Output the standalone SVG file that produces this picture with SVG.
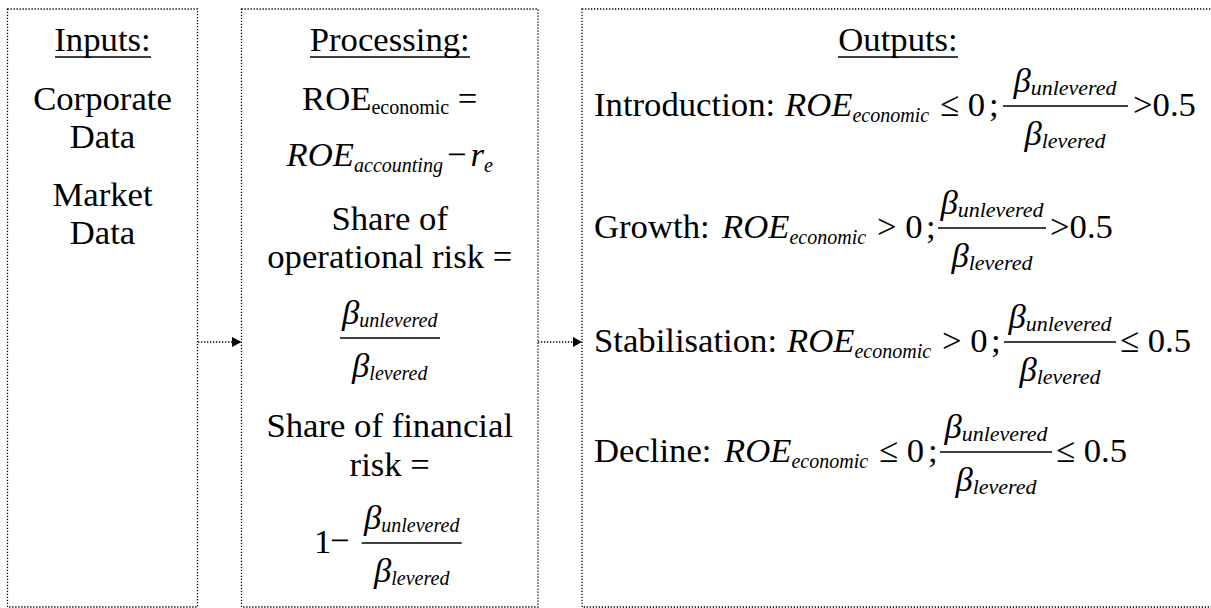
<svg xmlns="http://www.w3.org/2000/svg" width="1211" height="608" viewBox="0 0 1211 608">
<defs>
<style>
.t{font-family:"Liberation Serif","Times New Roman",serif;font-size:34.7px;fill:#000}
.c{text-anchor:middle}
.i{font-style:italic}
.s{font-size:20px;font-style:italic}
.s2{font-size:22px;font-style:italic}
.su{font-size:20px}
.bx{fill:#fff;stroke:#000;stroke-width:1.3;stroke-dasharray:1.3 1.7}
.fb{stroke:#000;stroke-width:1.5}
.ul{stroke:#000;stroke-width:1.7}
.cn{stroke:#000;stroke-width:1.3;stroke-dasharray:1.3 1.7;fill:none}
</style>
</defs>
<rect width="1211" height="608" fill="#fff"/>
<g id="inputs">
<rect class="bx" x="7.5" y="9" width="190" height="598"/>
<text class="t c" x="102.5" y="51">Inputs:</text>
<line class="ul" x1="55" y1="57" x2="151" y2="57"/>
<text class="t c" x="102.5" y="110">Corporate</text>
<text class="t c" x="102.5" y="148">Data</text>
<text class="t c" x="102.5" y="206">Market</text>
<text class="t c" x="102.5" y="244">Data</text>
</g>
<g id="processing">
<rect class="bx" x="241.5" y="9" width="296.5" height="598"/>
<text class="t c" x="389.75" y="51">Processing:</text>
<line class="ul" x1="310" y1="57" x2="470" y2="57"/>
<text class="t c" x="389.75" y="110">ROE<tspan class="su" dy="4">economic</tspan><tspan dy="-4"> =</tspan></text>
<text class="t c i" x="389.75" y="166">ROE<tspan class="s" dy="6">accounting</tspan><tspan dy="-6" dx="4" font-style="normal">−</tspan><tspan dx="4">r</tspan><tspan class="s" dy="6">e</tspan></text>
<text class="t c" x="389.75" y="230">Share of</text>
<text class="t c" x="389.75" y="268">operational risk =</text>
<text class="t c i" x="389.75" y="324">β<tspan class="s" dy="3">unlevered</tspan></text>
<line class="fb" x1="340" y1="338" x2="440" y2="338"/>
<text class="t c i" x="389.75" y="377">β<tspan class="s" dy="3">levered</tspan></text>
<text class="t c" x="389.75" y="437">Share of financial</text>
<text class="t c" x="389.75" y="476">risk =</text>
<text class="t" x="314" y="553">1</text>
<text class="t" x="330" y="552" font-size="30">−</text>
<text class="t c i" x="411.7" y="529">β<tspan class="s" dy="3">unlevered</tspan></text>
<line class="fb" x1="361.7" y1="543" x2="461.7" y2="543"/>
<text class="t c i" x="411.7" y="582">β<tspan class="s" dy="3">levered</tspan></text>
</g>
<g id="outputs">
<rect class="bx" x="582" y="9" width="640" height="598"/>
<text class="t c" x="898" y="51">Outputs:</text>
<line class="ul" x1="838" y1="57" x2="958" y2="57"/>
<g id="introduction">
<text class="t" x="594" y="116">Introduction:</text>
<text class="t i" x="785" y="116">ROE<tspan class="s" dy="6">economic</tspan></text>
<text class="t" x="940" y="116">≤ 0</text>
<text class="t" x="989" y="116">;</text>
<text class="t c i" x="1065" y="92">β<tspan class="s2" dy="3">unlevered</tspan></text>
<line class="fb" x1="1003" y1="106" x2="1128" y2="106"/>
<text class="t c i" x="1065" y="145">β<tspan class="s2" dy="3">levered</tspan></text>
<text class="t" x="1133" y="116">&gt;0.5</text>
</g>
<g id="growth">
<text class="t" x="594" y="238">Growth:</text>
<text class="t i" x="722" y="238">ROE<tspan class="s" dy="6">economic</tspan></text>
<text class="t" x="877" y="238">&gt; 0</text>
<text class="t" x="926" y="238">;</text>
<text class="t c i" x="992" y="214">β<tspan class="s2" dy="3">unlevered</tspan></text>
<line class="fb" x1="938" y1="228" x2="1046" y2="228"/>
<text class="t c i" x="992" y="267">β<tspan class="s2" dy="3">levered</tspan></text>
<text class="t" x="1050" y="238">&gt;0.5</text>
</g>
<g id="stabilisation">
<text class="t" x="594" y="352">Stabilisation:</text>
<text class="t i" x="787" y="352">ROE<tspan class="s" dy="6">economic</tspan></text>
<text class="t" x="942" y="352">&gt; 0</text>
<text class="t" x="991" y="352">;</text>
<text class="t c i" x="1060" y="328">β<tspan class="s2" dy="3">unlevered</tspan></text>
<line class="fb" x1="1004" y1="342" x2="1116" y2="342"/>
<text class="t c i" x="1060" y="381">β<tspan class="s2" dy="3">levered</tspan></text>
<text class="t" x="1120" y="352">≤ 0.5</text>
</g>
<g id="decline">
<text class="t" x="594" y="462">Decline:</text>
<text class="t i" x="724" y="462">ROE<tspan class="s" dy="6">economic</tspan></text>
<text class="t" x="879" y="462">≤ 0</text>
<text class="t" x="928" y="462">;</text>
<text class="t c i" x="996" y="438">β<tspan class="s2" dy="3">unlevered</tspan></text>
<line class="fb" x1="940" y1="452" x2="1052" y2="452"/>
<text class="t c i" x="996" y="491">β<tspan class="s2" dy="3">levered</tspan></text>
<text class="t" x="1056" y="462">≤ 0.5</text>
</g>
</g>
<g id="connectors">
<line class="cn" x1="198" y1="342" x2="233" y2="342"/>
<polygon points="232,337 241.5,342 232,347" fill="#000"/>
<line class="cn" x1="538" y1="342" x2="573" y2="342"/>
<polygon points="573,337 582,342 573,347" fill="#000"/>
</g>
</svg>
